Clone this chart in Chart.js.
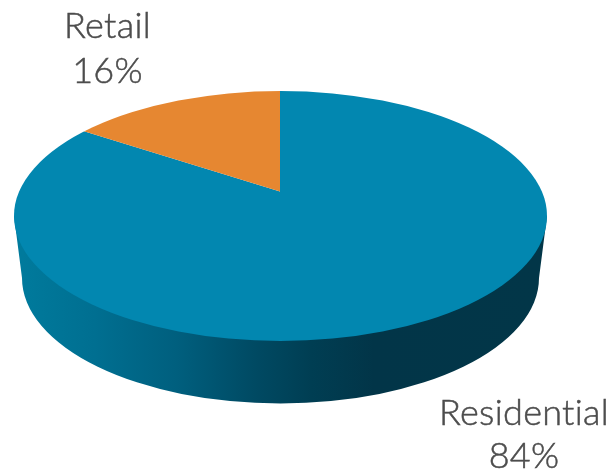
<!DOCTYPE html>
<html lang="en">
<head>
    <meta charset="UTF-8">
    <title>Retail and Residential Share</title>
    <script src="https://cdnjs.cloudflare.com/ajax/libs/Chart.js/4.4.1/chart.umd.min.js"></script>
    <style>
        body {
            margin: 0;
            background: #fff;
        }
        canvas {
            display: block;
        }
    </style>
</head>
<body>
    <canvas id="shareChart" width="615" height="471"></canvas>

    <script>
        const categories = ['Residential', 'Retail'];
        const shares = [84, 16];
        const sliceColors = ['#0287b0', '#e68731'];

        // where each label sits, same order as categories
        const labelSpots = [
            { x: 524, y: 425, valueY: 468 },
            { x: 107.5, y: 38, valueY: 83 }
        ];

        // the tilted disc
        const top3d = { x: 280.5, y: 216, rx: 266.5, ry: 125 };
        const bottom3d = { x: 280.5, y: 278, rx: 258.5, ry: 125.5 };
        const apex = { x: 280, y: 191.5, squash: 0.485 };

        const tiltedPie = {
            id: 'tiltedPie',
            beforeDatasetsDraw(chart) {
                const ctx = chart.ctx;
                const arc = chart.getDatasetMeta(0).data[0];

                // side wall first, the top face covers its upper half
                const wall = ctx.createLinearGradient(bottom3d.x - bottom3d.rx, 0, bottom3d.x + bottom3d.rx, 0);
                wall.addColorStop(0, '#007a9c');
                wall.addColorStop(0.14, '#006f91');
                wall.addColorStop(0.3, '#005f7e');
                wall.addColorStop(0.45, '#004a63');
                wall.addColorStop(0.56, '#003e53');
                wall.addColorStop(0.68, '#023548');
                wall.addColorStop(1, '#023648');
                ctx.save();
                ctx.beginPath();
                ctx.moveTo(top3d.x - top3d.rx, top3d.y);
                ctx.lineTo(bottom3d.x - bottom3d.rx, bottom3d.y);
                ctx.ellipse(bottom3d.x, bottom3d.y, bottom3d.rx, bottom3d.ry, 0, Math.PI, 0, true);
                ctx.lineTo(top3d.x + top3d.rx, top3d.y);
                ctx.closePath();
                ctx.fillStyle = wall;
                ctx.fill();
                ctx.restore();

                // slices get squashed around the apex and trimmed to the top face
                ctx.save();
                ctx.beginPath();
                ctx.ellipse(top3d.x, top3d.y, top3d.rx, top3d.ry, 0, 0, Math.PI * 2);
                ctx.clip();
                ctx.translate(apex.x, apex.y);
                ctx.scale(1, apex.squash);
                ctx.translate(-arc.x, -arc.y);
            },
            afterDatasetsDraw(chart) {
                const ctx = chart.ctx;
                ctx.restore();

                ctx.save();
                ctx.fillStyle = '#4d4d4d';
                ctx.strokeStyle = '#4d4d4d';
                ctx.lineWidth = 0.5; // Lato light is a bit too thin on its own
                ctx.font = '300 36px Lato';
                ctx.letterSpacing = '0.3px'; // also keeps the "ti" from joining up
                ctx.textAlign = 'center';
                categories.forEach((name, i) => {
                    const spot = labelSpots[i];
                    const value = shares[i] + '%';
                    ctx.fillText(name, spot.x, spot.y);
                    ctx.strokeText(name, spot.x, spot.y);
                    ctx.fillText(value, spot.x, spot.valueY);
                    ctx.strokeText(value, spot.x, spot.valueY);
                });
                ctx.restore();
            }
        };

        new Chart(document.getElementById('shareChart'), {
            type: 'pie',
            data: {
                labels: categories,
                datasets: [{
                    data: shares,
                    backgroundColor: sliceColors,
                    borderWidth: 0,
                    clip: false
                }]
            },
            options: {
                responsive: false,
                animation: false,
                radius: 330,
                plugins: {
                    legend: { display: false },
                    tooltip: { enabled: false }
                }
            },
            plugins: [tiltedPie]
        });
    </script>
</body>
</html>
